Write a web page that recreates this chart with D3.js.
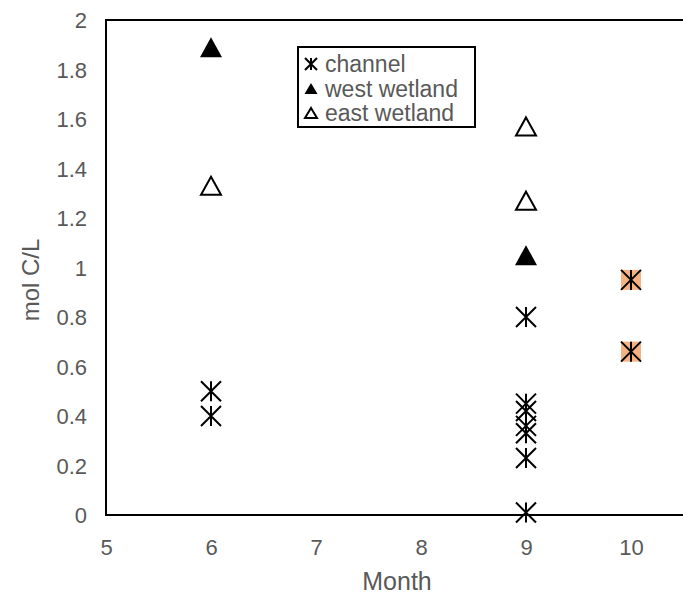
<!DOCTYPE html>
<html>
<head>
<meta charset="utf-8">
<script src="https://cdn.jsdelivr.net/npm/d3@7"></script>
<style>
body { margin: 0; background: #fff; }
text { font-family: "Liberation Sans", Arial, sans-serif; fill: #595959; }
</style>
</head>
<body>
<div id="chart"></div>
<script>
const width = 683
const height = 598
const margin = { top: 20, left: 106, bottom: 83 }

// data
const channelMonth = [6, 6, 9, 9, 9, 9, 9, 9, 9]
const channelValue = [0.50, 0.40, 0.80, 0.45, 0.42, 0.36, 0.33, 0.23, 0.01]
const westMonth = [6, 9]
const westValue = [1.89, 1.05]
const eastMonth = [6, 9, 9]
const eastValue = [1.33, 1.57, 1.27]
const highlightMonth = [10, 10]
const highlightValue = [0.95, 0.66]
const xTicks = [5, 6, 7, 8, 9, 10]
const yTicks = [0, 0.2, 0.4, 0.6, 0.8, 1, 1.2, 1.4, 1.6, 1.8, 2]

const svg = d3.select("div#chart").append("svg").attr("width", width).attr("height", height)

const x = d3.scaleLinear().domain([5, 11]).range([margin.left, margin.left + 630])
const y = d3.scaleLinear().domain([0, 2]).range([height - margin.bottom, margin.top])

// frame
svg.append("rect")
    .attr("x", x(5)).attr("y", y(2))
    .attr("width", x(11) - x(5)).attr("height", y(0) - y(2))
    .attr("fill", "none").attr("stroke", "#000").attr("stroke-width", 2)

const xAxis = d3.axisBottom(x).tickValues(xTicks).tickSize(0).tickPadding(24).tickFormat(d3.format("d"))
const yAxis = d3.axisLeft(y).tickValues(yTicks).tickSize(0).tickPadding(19).tickFormat(d => d)

const xAxisGroup = svg.append("g").attr("transform", `translate(0, ${y(0)})`).call(xAxis)
const yAxisGroup = svg.append("g").attr("transform", `translate(${x(5)}, 0)`).call(yAxis)
xAxisGroup.select(".domain").remove()
yAxisGroup.select(".domain").remove()
svg.selectAll(".tick text")
    .style("font-size", "22px")
    .style("font-family", "'Liberation Sans', Arial, sans-serif")
    .style("fill", "#595959")
yAxisGroup.selectAll(".tick text").attr("dy", "0.35em")

svg.append("text").attr("x", 397).attr("y", 590).attr("text-anchor", "middle")
    .style("font-size", "25px").text("Month")
svg.append("text").attr("transform", `translate(39, 280) rotate(-90)`)
    .attr("text-anchor", "middle").style("font-size", "24px").text("mol C/L")

// marker shapes
function starPath(s) {
    const h = s / 2
    return `M0,${-h}L0,${h}M${-h},${-h}L${h},${h}M${-h},${h}L${h},${-h}`
}
function triPath(s) {
    const h = s / 2
    return `M0,${-h + 1}L${h},${h - 1}L${-h},${h - 1}Z`
}

const plot = svg.append("g")

plot.selectAll(".hl").data(highlightMonth.map((m, i) => [m, highlightValue[i]])).enter()
    .append("rect")
    .attr("x", d => x(d[0]) - 10).attr("y", d => y(d[1]) - 10)
    .attr("width", 20).attr("height", 20)
    .attr("fill", "#f4b183")
plot.selectAll(".hls").data(highlightMonth.map((m, i) => [m, highlightValue[i]])).enter()
    .append("path")
    .attr("transform", d => `translate(${x(d[0])}, ${y(d[1])})`)
    .attr("d", starPath(20))
    .attr("stroke", "#000").attr("stroke-width", 2).attr("fill", "none")

plot.selectAll(".ch").data(channelMonth.map((m, i) => [m, channelValue[i]])).enter()
    .append("path")
    .attr("transform", d => `translate(${x(d[0])}, ${y(d[1])})`)
    .attr("d", starPath(20))
    .attr("stroke", "#000").attr("stroke-width", 2).attr("fill", "none")

plot.selectAll(".west").data(westMonth.map((m, i) => [m, westValue[i]])).enter()
    .append("path")
    .attr("transform", d => `translate(${x(d[0])}, ${y(d[1])})`)
    .attr("d", triPath(22))
    .attr("fill", "#000")

plot.selectAll(".east").data(eastMonth.map((m, i) => [m, eastValue[i]])).enter()
    .append("path")
    .attr("transform", d => `translate(${x(d[0])}, ${y(d[1])})`)
    .attr("d", triPath(20))
    .attr("fill", "#fff").attr("stroke", "#000").attr("stroke-width", 2)

// legend
const legend = svg.append("g").attr("transform", "translate(298, 47)")
legend.append("rect").attr("width", 177).attr("height", 80)
    .attr("fill", "#fff").attr("stroke", "#000").attr("stroke-width", 2)
const legendItems = ["channel", "west wetland", "east wetland"]
legendItems.forEach((name, i) => {
    const cy = 17 + i * 24.5
    const mark = legend.append("path").attr("transform", `translate(13, ${cy})`)
    if (i === 0) mark.attr("d", starPath(12)).attr("stroke", "#000").attr("stroke-width", 2).attr("fill", "none")
    if (i === 1) mark.attr("d", triPath(13)).attr("fill", "#000")
    if (i === 2) mark.attr("d", triPath(12)).attr("fill", "#fff").attr("stroke", "#000").attr("stroke-width", 2)
    legend.append("text").attr("x", 27).attr("y", cy + 8).style("font-size", "23px").text(name)
})
</script>
</body>
</html>
